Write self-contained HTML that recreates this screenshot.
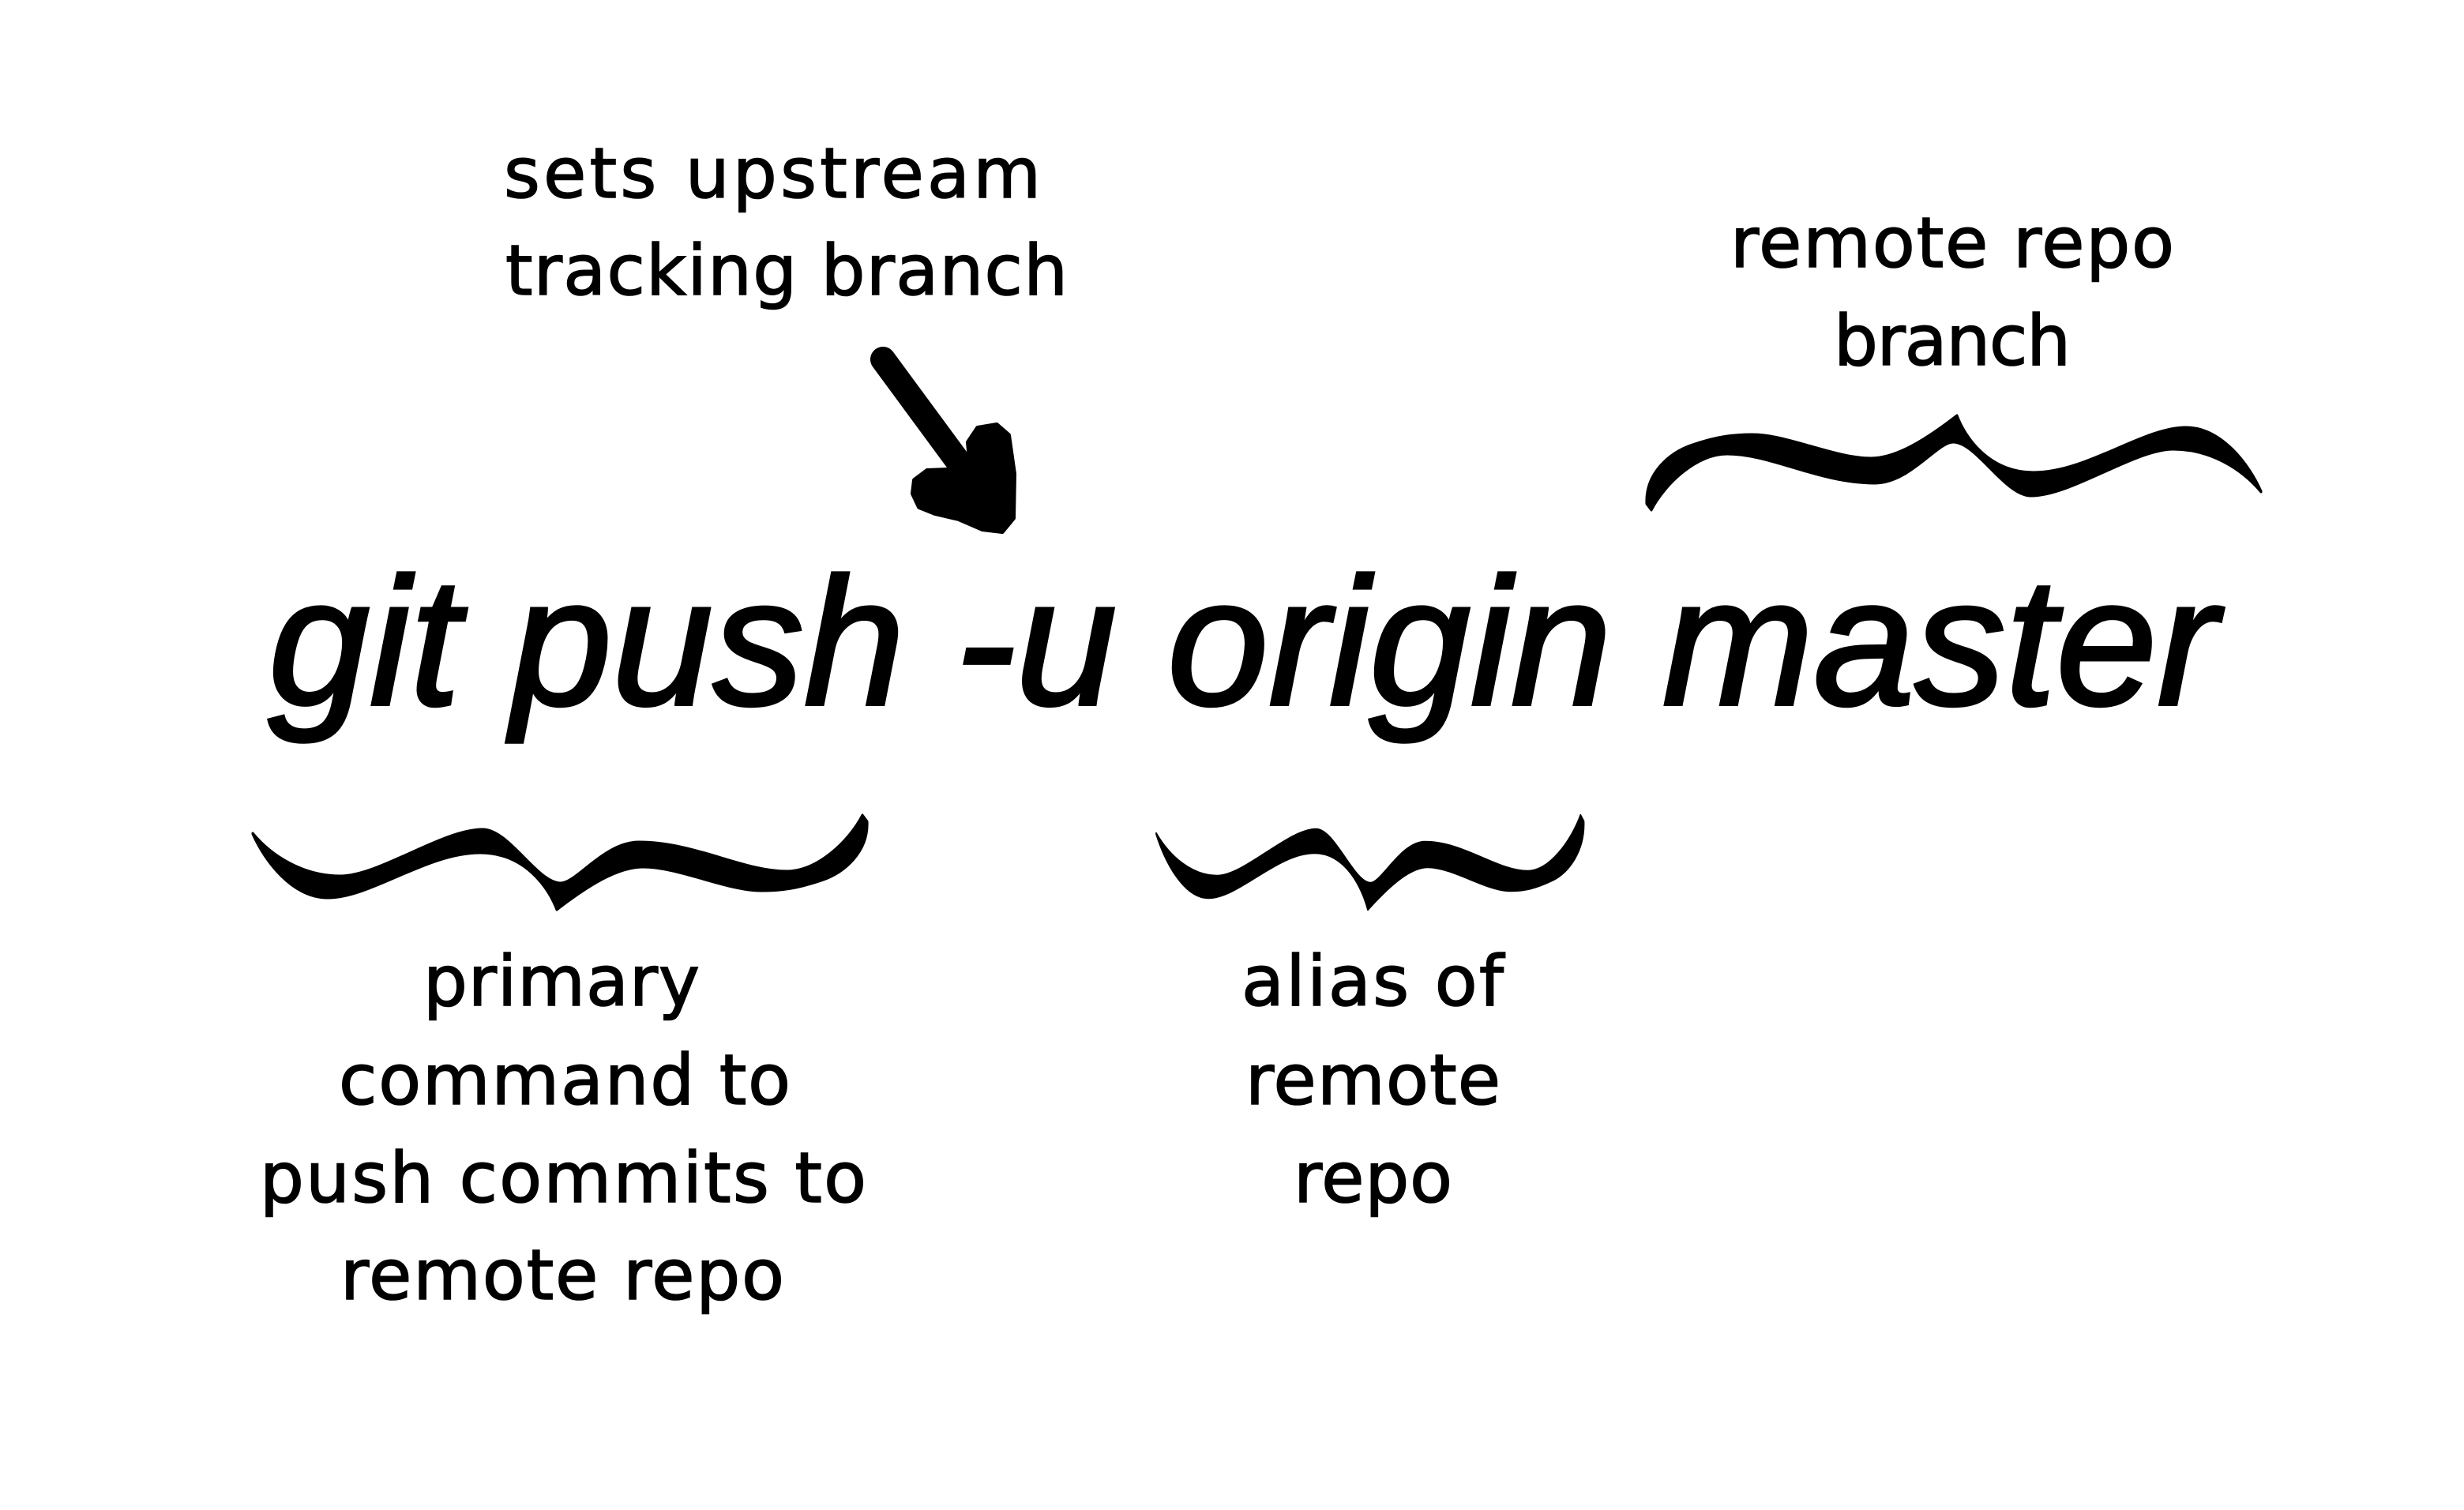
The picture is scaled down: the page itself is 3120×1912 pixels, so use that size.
<!DOCTYPE html>
<html>
<head>
<meta charset="utf-8">
<style>
  html, body { margin: 0; padding: 0; background: #ffffff; }
  body { width: 3120px; height: 1912px; overflow: hidden; }
  svg { display: block; }
  .lbl { font-family: "DejaVu Sans", "Liberation Sans", sans-serif; font-size: 88px; fill: #000; stroke: #000; stroke-width: 1.6px; }
  .main { font-family: "Liberation Sans", sans-serif; font-style: italic; font-size: 230px; fill: #000; stroke: #000; stroke-width: 4px; }
</style>
</head>
<body>
<svg width="3120" height="1912" viewBox="0 0 3120 1912" xmlns="http://www.w3.org/2000/svg">
  <rect x="0" y="0" width="3120" height="1912" fill="#ffffff"/>
  <defs>
    <path id="brace" d="M320,1055
      C345,1085 385,1109 431,1109
      C480,1109 560,1050 611,1050
      C645,1050 680,1118 710,1118
      C730,1118 765,1066 809,1066
      C880,1066 940,1103 996,1103
      C1035,1103 1075,1065 1092,1032
      L1098,1040
      C1100,1078 1070,1105 1040,1115
      C1010,1125 990,1128 964,1128
      C920,1128 860,1098 814,1098
      C780,1098 740,1125 705,1152
      C695,1125 665,1080 608,1080
      C540,1080 470,1137 415,1137
      C370,1137 335,1090 320,1056 Z"/>
  </defs>

  <!-- top annotation -->
  <text class="lbl" x="638" y="250" textLength="680" lengthAdjust="spacing">sets upstream</text>
  <text class="lbl" x="640" y="373" textLength="712" lengthAdjust="spacing">tracking branch</text>

  <!-- arrow -->
  <line x1="1118" y1="455" x2="1238" y2="618" stroke="#000" stroke-width="32" stroke-linecap="round"/>
  <polygon fill="#000" stroke="#000" stroke-width="6" stroke-linejoin="round" points="1158,608 1174,596 1200,595 1230,604 1226,560 1238,542 1262,538 1277,551 1284,600 1283,656 1269,673 1244,670 1214,657 1184,650 1164,642 1156,625"/>

  <!-- top right annotation -->
  <text class="lbl" x="2191" y="338" textLength="562" lengthAdjust="spacing">remote repo</text>
  <text class="lbl" x="2322" y="462" textLength="300" lengthAdjust="spacing">branch</text>
  <use href="#brace" fill="#000" stroke="#000" stroke-width="3" stroke-linejoin="round" transform="translate(3183,1678) rotate(180)"/>

  <!-- main command -->
  <text class="main" x="340" y="892" textLength="2468" lengthAdjust="spacing">git push -u origin master</text>

  <!-- bottom braces -->
  <use href="#brace" fill="#000" stroke="#000" stroke-width="3" stroke-linejoin="round"/>
  <use href="#brace" fill="#000" stroke="#000" stroke-width="2.5" stroke-linejoin="round" transform="translate(1464,0) scale(0.696,1) translate(-320,0)"/>

  <!-- bottom left annotation -->
  <text class="lbl" x="536" y="1273" textLength="350" lengthAdjust="spacing">primary</text>
  <text class="lbl" x="429" y="1398" textLength="572" lengthAdjust="spacing">command to</text>
  <text class="lbl" x="329" y="1522" textLength="768" lengthAdjust="spacing">push commits to</text>
  <text class="lbl" x="431" y="1645" textLength="562" lengthAdjust="spacing">remote repo</text>

  <!-- bottom middle annotation -->
  <text class="lbl" x="1572" y="1273" textLength="332" lengthAdjust="spacing">alias of</text>
  <text class="lbl" x="1577" y="1398" textLength="323" lengthAdjust="spacing">remote</text>
  <text class="lbl" x="1638" y="1522" textLength="201" lengthAdjust="spacing">repo</text>
</svg>
</body>
</html>
